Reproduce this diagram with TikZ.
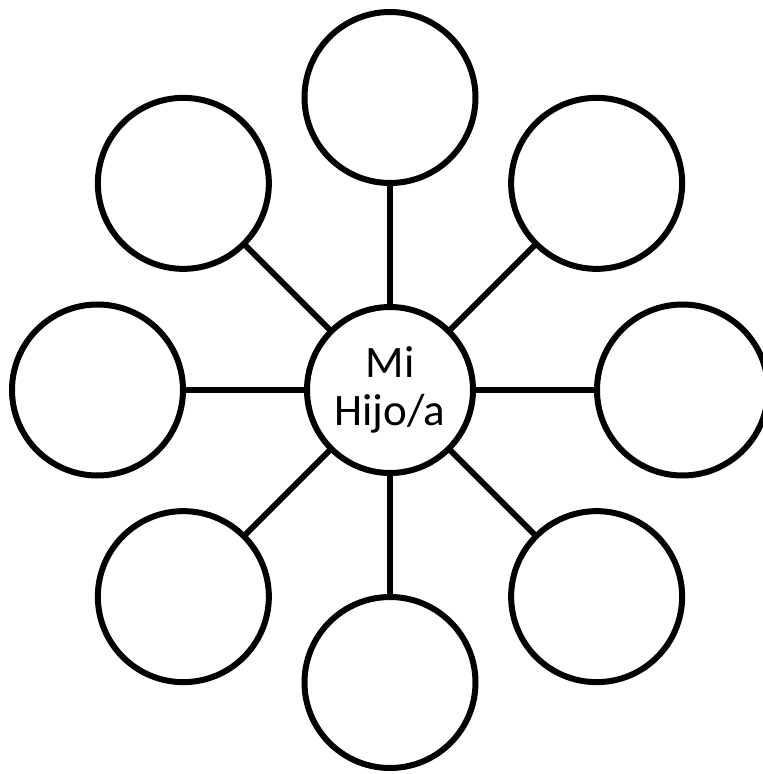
\documentclass[tikz,border=0pt]{standalone}
\usepackage{fontspec}
\setmainfont{Carlito}
\usetikzlibrary{positioning}

\begin{document}
\begin{tikzpicture}[
  node distance=124pt and 124pt,
  bubble/.style={draw,circle,line width=6pt,inner sep=0pt,outer sep=0pt,
                 minimum size=171pt},
  hubbox/.style={bubble,minimum size=166pt,align=center,
                 font=\fontsize{45}{48}\selectfont},
  spoke/.style={line width=6pt}
]
\useasboundingbox (-390pt,-384pt) rectangle (373pt,390pt);

% Centre
\node[hubbox] (hub) at (0,0) {Mi\\Hijo/a};

% Eight surrounding circles
\node[bubble,above=of hub] (up) {};
\node[bubble,below=of hub] (down) {};
\node[bubble,left=of hub] (west) {};
\node[bubble,right=of hub] (east) {};
\node[bubble,above left=87.5pt and 87.5pt of hub] (upleft) {};
\node[bubble,above right=87.5pt and 87.5pt of hub] (upright) {};
\node[bubble,below left=87.5pt and 87.5pt of hub] (downleft) {};
\node[bubble,below right=87.5pt and 87.5pt of hub] (downright) {};

% Spokes
\draw[spoke] (hub) -- (up);
\draw[spoke] (hub) -- (down);
\draw[spoke] (hub) -- (west);
\draw[spoke] (hub) -- (east);
\draw[spoke] (hub) -- (upleft);
\draw[spoke] (hub) -- (upright);
\draw[spoke] (hub) -- (downleft);
\draw[spoke] (hub) -- (downright);

\end{tikzpicture}
\end{document}
